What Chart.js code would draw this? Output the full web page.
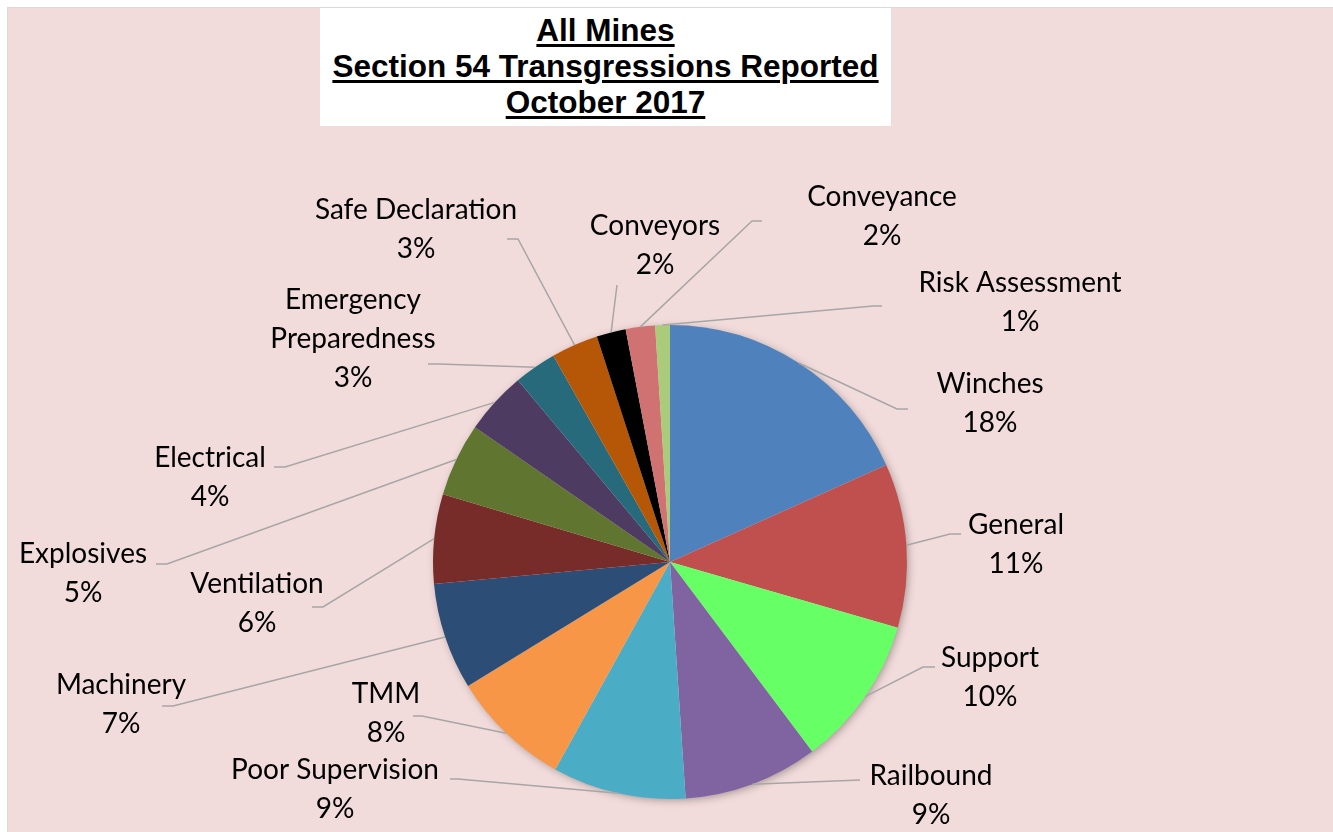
<!DOCTYPE html>
<html>
<head>
<meta charset="utf-8">
<script src="https://cdn.jsdelivr.net/npm/chart.js@4/dist/chart.umd.min.js"></script>
<style>
  body { margin: 0; background: #fff; width: 1333px; height: 832px; overflow: hidden; position: relative; }
  #frame { position: absolute; left: 7px; top: 7px; right: 0; bottom: 0; background: #F2DCDB;
           border-top: 1px solid #d9d9d9; border-left: 1px solid #d9d9d9; }
  #title { position: absolute; left: 320px; top: 8px; width: 571px; height: 118px; background: #fff;
           font-family: "Liberation Sans", Arial, sans-serif; font-weight: bold; font-size: 31.5px;
           line-height: 36px; text-align: center; padding-top: 4px; box-sizing: border-box; color: #000; }
  #title span { text-decoration: underline; text-decoration-thickness: 3px; text-underline-offset: 3px; }
  #chart { position: absolute; left: 0; top: 0; }
</style>
</head>
<body>
<div id="frame"></div>
<canvas id="chart" width="1333" height="832"></canvas>
<div id="title"><span>All Mines</span><br><span>Section 54 Transgressions Reported</span><br><span>October 2017</span></div>
<script>
"use strict";

const categories = ['Winches', 'General', 'Support', 'Railbound', 'Poor Supervision', 'TMM', 'Machinery',
  'Ventilation', 'Explosives', 'Electrical', 'Emergency Preparedness', 'Safe Declaration', 'Conveyors',
  'Conveyance', 'Risk Assessment'];
const values = [18.3, 11.2, 10.3, 9.2, 9.1, 8.2, 7.3, 6.1, 5.0, 4.3, 2.9, 3.2, 2.0, 2.0, 1.0];
const colors = ['#4F81BD', '#C0504D', '#66FF66', '#8064A2', '#4BACC6', '#F79646', '#2C4D75',
  '#772C2A', '#5F7530', '#4D3B62', '#276A7C', '#B65708', '#000000', '#D07272', '#A9CB7A'];

// where each label sits: text centre x, first line centre y, leader elbow x/y, leader tail x
const labelSpots = [
  [990, 384, 897, 409, 908],
  [1016, 525, 950, 534, 961],
  [990, 658, 923, 667, 935],
  [931, 776, 860, 780, 860],
  [335, 770, 458, 779, 450],
  [386, 694, 422, 716, 413],
  [121, 685, 173, 706, 162],
  [257, 584, 323, 607, 312],
  [83, 554, 167, 564, 156],
  [210, 458, 285, 467, 274],
  [353, 300, 439, 364, 428],
  [416, 210, 518, 239, 507],
  [655, 226, 617, 285, 617],
  [882, 197, 752, 221, 762],
  [1020, 283, 873, 306, 882]
];

const LABEL_FONT = '28px Lato, "Open Sans", sans-serif';
const LINE_H = 39;

function wrapLabel(ctx, text) {
  if (ctx.measureText(text).width <= 250) return [text];
  return text.split(' ');
}

const leaderLabels = {
  id: 'leaderLabels',
  beforeDatasetsDraw(chart) {
    // soft shadow under the pie
    const arc = chart.getDatasetMeta(0).data[0];
    const ctx = chart.ctx;
    ctx.save();
    ctx.shadowColor = 'rgba(0,0,0,0.35)';
    ctx.shadowBlur = 8;
    ctx.shadowOffsetX = 2;
    ctx.shadowOffsetY = 2;
    ctx.fillStyle = '#F2DCDB';
    ctx.beginPath();
    ctx.arc(arc.x, arc.y, arc.outerRadius - 1, 0, Math.PI * 2);
    ctx.fill();
    ctx.restore();
  },
  afterDatasetsDraw(chart) {
    const ctx = chart.ctx;
    const meta = chart.getDatasetMeta(0);
    const total = values.reduce((a, b) => a + b, 0);
    ctx.save();
    ctx.font = LABEL_FONT;
    meta.data.forEach((arc, i) => {
      const mid = (arc.startAngle + arc.endAngle) / 2;
      const sx = arc.x + Math.cos(mid) * arc.outerRadius;
      const sy = arc.y + Math.sin(mid) * arc.outerRadius;
      const [cx, cy, ex, ey, tx] = labelSpots[i];

      ctx.strokeStyle = '#a6a6a6';
      ctx.lineWidth = 1.5;
      ctx.beginPath();
      ctx.moveTo(sx, sy);
      ctx.lineTo(ex, ey);
      ctx.lineTo(tx, ey);
      ctx.stroke();

      const lines = wrapLabel(ctx, categories[i]);
      lines.push(Math.round(values[i] / total * 100) + '%');
      ctx.fillStyle = '#000';
      ctx.textAlign = 'center';
      ctx.textBaseline = 'middle';
      lines.forEach((l, k) => ctx.fillText(l, cx, cy + k * LINE_H));
    });
    ctx.restore();
  }
};

new Chart(document.getElementById('chart'), {
  type: 'pie',
  data: {
    labels: categories,
    datasets: [{
      data: values,
      backgroundColor: colors,
      borderWidth: 0
    }]
  },
  options: {
    responsive: false,
    animation: false,
    layout: { padding: { left: 433, right: 426, top: 325, bottom: 33 } },
    plugins: {
      legend: { display: false },
      tooltip: { enabled: false },
      title: { display: false }
    }
  },
  plugins: [leaderLabels]
});
</script>
</body>
</html>
